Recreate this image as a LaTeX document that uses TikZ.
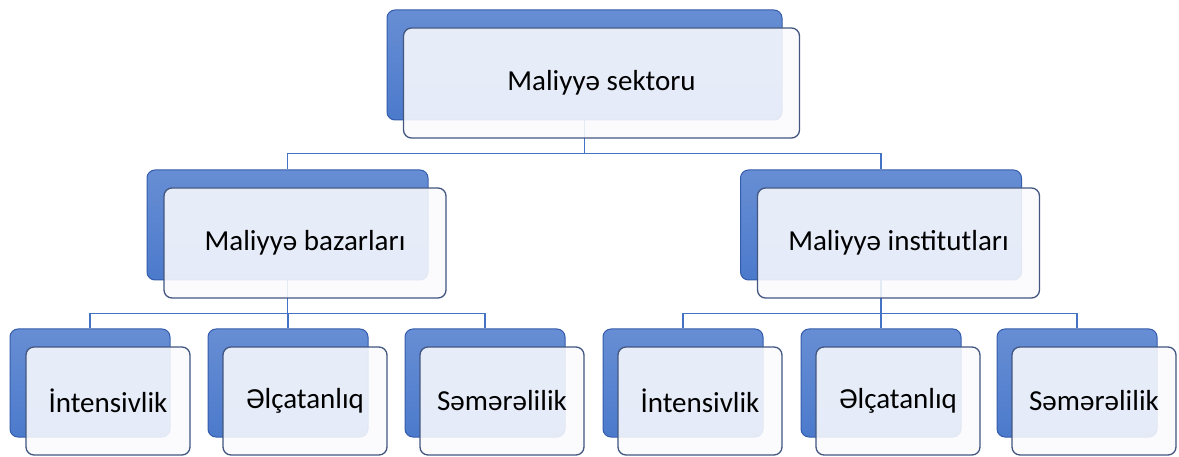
\documentclass[tikz,border=0pt]{standalone}
\usepackage{fontspec}
\setmainfont{Carlito}
\definecolor{backblue}{RGB}{76,122,204}
\definecolor{backedge}{RGB}{52,92,170}
\definecolor{frontfill}{RGB}{250,251,254}
\definecolor{frontedge}{RGB}{66,86,128}
\definecolor{linkblue}{RGB}{68,114,196}
\begin{document}
\begin{tikzpicture}[x=1pt,y=-1pt,
  backbox/.style={draw=backedge,line width=1pt,rounded corners=8pt,
    top color=backblue!85!white,bottom color=backblue,
    minimum width=#1,minimum height=110pt,inner sep=0pt},
  frontbox/.style={draw=frontedge,line width=1.3pt,rounded corners=8pt,
    fill=frontfill,fill opacity=0.88,text opacity=1,
    minimum width=#1,minimum height=110pt,inner sep=0pt,
    font=\fontsize{29}{34}\selectfont},
  smallback/.style={backbox=160pt,minimum height=108pt},
  smallfront/.style={frontbox=164pt,minimum height=108pt},
  link/.style={draw=linkblue,line width=1.3pt}]
\useasboundingbox (0,0) rectangle (1179,457);
% back boxes
\node[backbox=395pt] (tb) at (584.5,65) {};
\node[backbox=281pt] (lb) at (287.5,225) {};
\node[backbox=281pt] (rb) at (881,225) {};
\node[smallback] (b1) at (90,383) {};
\node[smallback] (b2) at (288,383) {};
\node[smallback] (b3) at (485,383) {};
\node[smallback] (b4) at (683,383) {};
\node[smallback] (b5) at (881,383) {};
\node[smallback] (b6) at (1077,383) {};
% connectors
\draw[link] (tb.south) -- ++(0,33) coordinate (bus0) -| (lb.north);
\draw[link] (bus0) -| (rb.north);
\draw[link] (lb.south) -- ++(0,33) coordinate (bus1) -| (b1.north);
\draw[link] (bus1) -| (b2.north);
\draw[link] (bus1) -| (b3.north);
\draw[link] (rb.south) -- ++(0,33) coordinate (bus2) -| (b4.north);
\draw[link] (bus2) -| (b5.north);
\draw[link] (bus2) -| (b6.north);
% front boxes
\node[frontbox=396pt] (tf) at (601.5,83) {Maliyyə sektoru};
\node[frontbox=282pt] (lf) at (305,243) {Maliyyə bazarları};
\node[frontbox=282pt] (rf) at (898.5,243) {Maliyyə institutları};
\node[smallfront] (f1) at (108,401) {İntensivlik};
\node[smallfront] (f2) at (305,401) {Əlçatanlıq};
\node[smallfront] (f3) at (502,401) {Səmərəlilik};
\node[smallfront] (f4) at (700,401) {İntensivlik};
\node[smallfront] (f5) at (898,401) {Əlçatanlıq};
\node[smallfront] (f6) at (1094,401) {Səmərəlilik};
\end{tikzpicture}
\end{document}
